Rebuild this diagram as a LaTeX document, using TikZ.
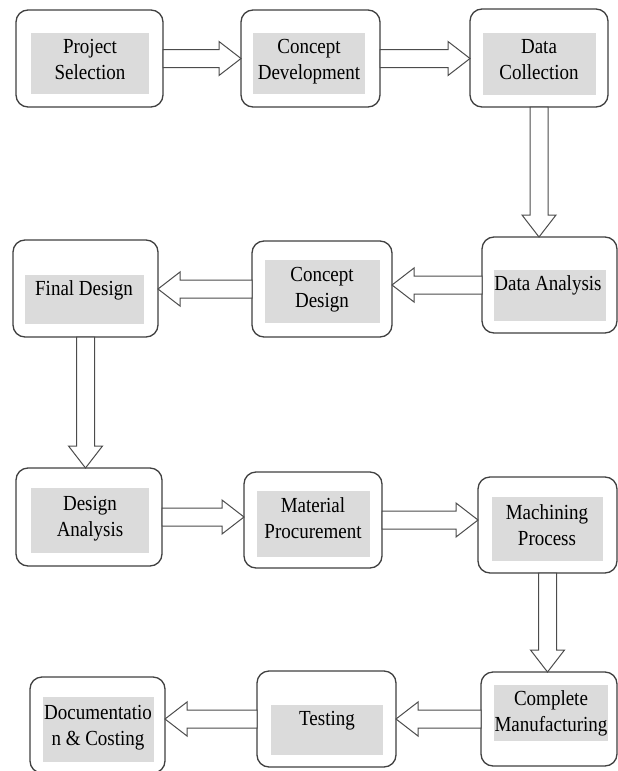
\documentclass[tikz,border=0pt]{standalone}
\usepackage{fontspec}
\setmainfont{Liberation Serif}
\usepackage{graphicx}
\usepackage{tikz}
\usetikzlibrary{positioning, calc}
\tikzset{
	stage/.style={rectangle, draw=black!75, line width=1.3pt, rounded corners=12pt, fill=white, inner sep=0pt, outer sep=0pt},
	shade/.style={rectangle, fill=gray!28, inner sep=0pt, outer sep=0pt},
	barrow/.style={draw=black!70, line width=1pt, fill=white, line join=miter}
}
% slightly tall text, as in the scanned chart
\newcommand{\tall}[1]{\scalebox{1}[1.13]{\begin{tabular}{@{}c@{}}#1\end{tabular}}}
% hollow block arrow from #1 to #2
\newcommand{\blockarrow}[2]{%
	\coordinate (hb) at ($(#2)!22pt!(#1)$);
	\draw[barrow] ($(#1)!9pt!90:(#2)$) -- ($(hb)!9pt!90:(#2)$) -- ($(hb)!17pt!90:(#2)$) -- (#2)
		-- ($(hb)!17pt!-90:(#2)$) -- ($(hb)!9pt!-90:(#2)$) -- ($(#1)!9pt!-90:(#2)$) -- cycle;
}
\begin{document}
\begin{tikzpicture}[
	x=1pt, y=1pt,
	% --- STYLES ---
	lbl/.style={
		inner sep=0pt,
		font=\fontsize{19}{23}\selectfont
	}
	]
	\useasboundingbox (0,0) rectangle (618,-771);
	
	% --- Row 1 ---
	\node[stage, minimum width=147, minimum height=97] (proj_sel) at (89.5,-58.5) {};
	\node[shade, minimum width=118, minimum height=61] at (90,-63.5) {};
	\node[lbl] at (90,-61) {\tall{Project\\Selection}};
	
	\node[stage, minimum width=139, minimum height=97] (con_dev) at (310.5,-58.5) {};
	\node[shade, minimum width=112, minimum height=61] at (309,-63.5) {};
	\node[lbl] at (309,-61) {\tall{Concept\\Development}};
	
	\node[stage, minimum width=138, minimum height=98] (data_col) at (539,-58) {};
	\node[shade, minimum width=113, minimum height=62] at (539.5,-64) {};
	\node[lbl] at (539,-61) {\tall{Data\\Collection}};
	
	% --- Row 2 ---
	\node[stage, minimum width=135, minimum height=96] (data_ana) at (549.5,-285) {};
	\node[shade, minimum width=112, minimum height=51] at (550,-295.5) {};
	\node[lbl] at (548,-285) {\tall{Data Analysis}};
	
	\node[stage, minimum width=140, minimum height=96] (con_des) at (322,-289) {};
	\node[shade, minimum width=115, minimum height=63] at (322.5,-291.5) {};
	\node[lbl] at (322,-289) {\tall{Concept\\Design}};
	
	\node[stage, minimum width=145, minimum height=97] (fin_des) at (85.5,-288.5) {};
	\node[shade, minimum width=119, minimum height=49] at (84.5,-299.5) {};
	\node[lbl] at (84,-290) {\tall{Final Design}};
	
	% --- Row 3 ---
	\node[stage, minimum width=146, minimum height=98] (des_ana) at (89,-517) {};
	\node[shade, minimum width=118, minimum height=65] at (90,-520.5) {};
	\node[lbl] at (90,-518) {\tall{Design\\Analysis}};
	
	\node[stage, minimum width=138, minimum height=96] (mat_pro) at (313,-520) {};
	\node[shade, minimum width=113, minimum height=66] at (313.5,-524) {};
	\node[lbl] at (313,-520) {\tall{Material\\Procurement}};
	
	\node[stage, minimum width=139, minimum height=96] (mach_pro) at (547.5,-525) {};
	\node[shade, minimum width=111, minimum height=64] at (547.5,-529) {};
	\node[lbl] at (547,-527) {\tall{Machining\\Process}};
	
	% --- Row 4 ---
	\node[stage, minimum width=136, minimum height=94] (comp_man) at (549,-719) {};
	\node[shade, minimum width=114, minimum height=56] at (551,-713) {};
	\node[lbl] at (551,-713) {\tall{Complete\\Manufacturing}};
	
	\node[stage, minimum width=139, minimum height=96] (testing) at (326.5,-719) {};
	\node[shade, minimum width=112, minimum height=50] at (327,-730) {};
	\node[lbl] at (327,-720) {\tall{Testing}};
	
	\node[stage, minimum width=135, minimum height=96] (doc_cost) at (97.5,-725) {};
	\node[shade, minimum width=111, minimum height=65] at (98.5,-729.5) {};
	\node[lbl] at (98,-727) {\tall{Documentatio\\n \& Costing}};
	
	% --- Connections ---
	\blockarrow{proj_sel.east}{con_dev.west |- proj_sel.east}
	\blockarrow{con_dev.east}{data_col.west |- con_dev.east}
	\blockarrow{data_col.south}{data_col.south |- data_ana.north}
	\blockarrow{data_ana.west}{con_des.east |- data_ana.west}
	\blockarrow{con_des.west}{fin_des.east |- con_des.west}
	\blockarrow{fin_des.south}{fin_des.south |- des_ana.north}
	\blockarrow{des_ana.east}{mat_pro.west |- des_ana.east}
	\blockarrow{mat_pro.east}{mach_pro.west |- mat_pro.east}
	\blockarrow{mach_pro.south}{mach_pro.south |- comp_man.north}
	\blockarrow{comp_man.west}{testing.east |- comp_man.west}
	\blockarrow{testing.west}{doc_cost.east |- testing.west}
	
\end{tikzpicture}
\end{document}
